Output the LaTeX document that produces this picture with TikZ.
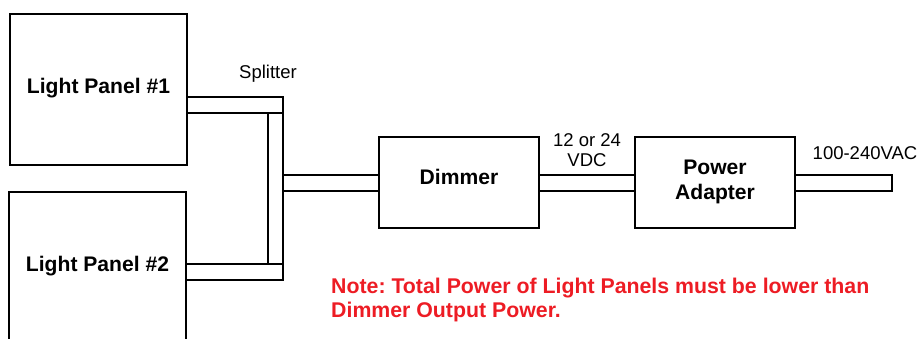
\documentclass[tikz,border=0pt]{standalone}
\usepackage{fontspec}
\setmainfont{Liberation Sans}
\definecolor{notered}{RGB}{237,28,36}
\frenchspacing
\begin{document}
\begin{tikzpicture}[x=1pt,y=-1pt,
  box/.style={draw,line width=1.4pt,inner sep=0pt,outer sep=0pt},
  cable/.style={draw,line width=1.4pt},
  big/.style={font=\bfseries\fontsize{21.1}{24.5}\selectfont,inner sep=0pt,align=center},
  small/.style={font=\fontsize{18.5}{19.5}\selectfont,inner sep=0pt,align=center},
  notetext/.style={font=\bfseries\fontsize{21.3}{24}\selectfont,text=notered,inner sep=0pt,align=left}]
\useasboundingbox (0,0) rectangle (919,338);
\clip (0,0) rectangle (919,338);
% boxes
\node[box,minimum width=177pt,minimum height=151pt] (panel1) at (98.5,89.5) {};
\node[box,minimum width=177pt,minimum height=170pt] (panel2) at (97.5,277) {};
\node[box,minimum width=160pt,minimum height=91pt] (dimmer) at (459,182.5) {};
\node[box,minimum width=160pt,minimum height=91pt] (adapter) at (715,182.5) {};
% box texts
\node[big] (t1) at (98.5,88) {Light Panel \#1};
\node[big] (t2) at (97.5,266) {Light Panel \#2};
\node[big] (t3) at (459,176.5) {Dimmer};
\node[big] (t4) at (715,182) {Power\\Adapter};
% splitter
\coordinate (sptop) at (283,97);
\coordinate (spbot) at (283,280);
\coordinate (spin) at (268,113);
\coordinate (spout) at (283,175);
\draw[cable] (panel1.east |- sptop) rectangle (283,113);
\draw[cable] (spin) rectangle (283,264);
\draw[cable] (panel2.east |- 0,264) rectangle (spbot);
\draw[cable] (spout) rectangle (dimmer.west |- 0,191);
% cables
\draw[cable] (dimmer.east |- 0,175) rectangle (adapter.west |- 0,191);
\coordinate (plug) at (892,191);
\draw[cable] (adapter.east |- 0,175) rectangle (plug);
% labels
\node[small] (lsplit) at (268,73.5) {Splitter};
\node[small] (lvac) at (865,153) {100-240VAC};
\node[small] (lvdc) at (587,150) {12 or 24\\VDC};
\node[notetext,anchor=north west] (note) at (331,278) {Note: Total Power of Light Panels must be lower than\\Dimmer Output Power.};
\end{tikzpicture}
\end{document}
